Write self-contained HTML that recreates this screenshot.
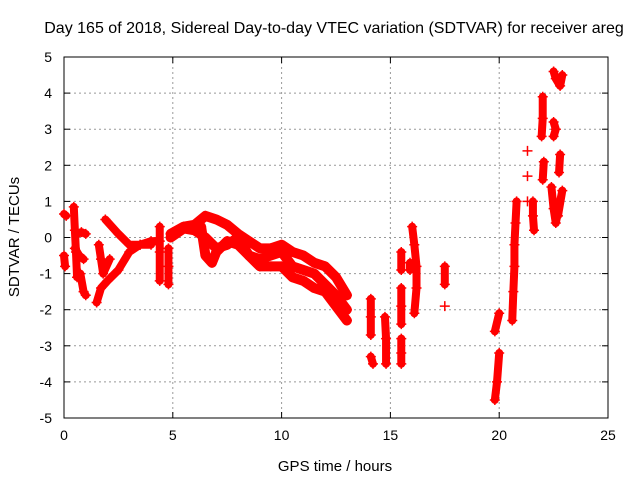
<!DOCTYPE html>
<html><head><meta charset="utf-8"><style>
body{margin:0;background:#fff;}
svg{display:block;font-family:"Liberation Sans",sans-serif;}
</style></head><body>
<svg id="chart" width="640" height="480">
<text x="334" y="33" text-anchor="middle" font-size="16">Day 165 of 2018, Sidereal Day-to-day VTEC variation (SDTVAR) for receiver areg</text>
<g id="grid"></g>
<g id="axes"></g>
<g id="marks"></g>
<text x="335" y="471" text-anchor="middle" font-size="15">GPS time / hours</text>
<text transform="translate(19,237) rotate(-90)" text-anchor="middle" font-size="15">SDTVAR / TECUs</text>
</svg>
<script>
const xTicks=[0,5,10,15,20,25];
const yTicks=[-5,-4,-3,-2,-1,0,1,2,3,4,5];
const tracks=[
[[0,0.65],[0.1,0.6]],
[[0,-0.5],[0.05,-0.8]],
[[0.45,0.85],[0.5,0.2],[0.55,-0.4],[0.6,-1.1],[0.75,-1.0],[0.9,-1.5],[1.0,-1.6]],
[[0.6,0.1],[0.8,0.15],[1.0,0.1]],
[[0.5,-0.3],[0.7,-0.5],[0.9,-0.6]],
[[1.5,-1.8],[1.7,-1.4],[2.0,-1.2],[2.5,-0.9],[3,-0.4],[3.5,-0.2],[4,-0.1],[4.4,-0.1]],
[[1.9,0.5],[2.5,0.1],[3,-0.2],[3.5,-0.2],[4,-0.2]],
[[1.6,-0.2],[1.7,-0.6],[1.8,-1.0],[2.1,-0.6]],
[[4.4,0.3],[4.4,-0.4],[4.4,-1.2]],
[[4.8,-0.3],[4.8,-0.8],[4.8,-1.3]],
[[4.9,0],[5.5,0.25],[6,0.2],[6.5,0],[7,-0.3],[7.5,-0.2],[8,0],[8.5,-0.5],[9,-0.8],[9.5,-0.8],[10,-0.8],[10.5,-1.1],[11,-1.2],[11.5,-1.4],[12,-1.5],[12.5,-1.9],[13,-2.3]],
[[4.9,0.1],[5.5,0.3],[6,0.35],[6.5,0.6],[7,0.5],[7.5,0.35],[8,0.1],[8.5,-0.1],[9,-0.3],[9.5,-0.3],[10,-0.2],[10.5,-0.4],[11,-0.5],[11.5,-0.7],[12,-0.8],[12.5,-1.1],[13,-1.6]],
[[6.3,0.3],[6.5,-0.5],[6.8,-0.7],[7,-0.4],[7.5,-0.1],[8,-0.2],[8.5,-0.5],[9,-0.6],[9.5,-0.5],[10,-0.4],[10.5,-0.8],[11,-0.9],[11.5,-1.0],[12,-1.3],[12.5,-1.6],[13,-2.0]],
[[14.1,-1.7],[14.1,-2.2],[14.1,-2.7]],
[[14.1,-3.3],[14.2,-3.5]],
[[14.75,-2.2],[14.8,-2.8],[14.8,-3.5]],
[[15.5,-0.4],[15.5,-0.9]],
[[15.5,-1.4],[15.5,-1.9],[15.5,-2.4]],
[[15.5,-2.8],[15.5,-3.2],[15.5,-3.5]],
[[16.0,0.3],[16.1,-0.2],[16.2,-0.8],[16.2,-1.4],[16.1,-2.1]],
[[15.9,-0.7],[15.9,-0.9]],
[[17.5,-0.8],[17.5,-1.3]],
[[17.5,-1.9]],
[[19.8,-4.5],[19.9,-4.0],[20.0,-3.2]],
[[19.8,-2.6],[20.0,-2.1]],
[[20.6,-2.3],[20.65,-1.5],[20.7,-0.8],[20.7,-0.2],[20.75,0.4],[20.8,1.0]],
[[21.3,2.4]],[[21.3,1.7]],[[21.3,1.0]],
[[21.55,1.0],[21.55,0.6],[21.6,0.2]],
[[22.0,3.9],[22.0,3.3],[21.95,2.8]],
[[22.05,2.1],[22.0,1.6]],
[[22.5,4.6],[22.6,4.4],[22.8,4.2],[22.9,4.5]],
[[22.5,3.2],[22.6,3.0],[22.5,2.8]],
[[22.8,2.3],[22.75,1.8]],
[[22.4,1.4],[22.5,0.8],[22.6,0.4],[22.9,1.3],[22.7,0.6]]
];
const X=h=>64+h*21.76, Y=v=>237.5-v*36.1;
const ns="http://www.w3.org/2000/svg";
const grid=document.getElementById('grid'),axes=document.getElementById('axes'),marks=document.getElementById('marks');
function mk(tag,attrs,parent){const e=document.createElementNS(ns,tag);for(const k in attrs)e.setAttribute(k,attrs[k]);parent.appendChild(e);return e;}
xTicks.forEach(t=>{
 if(t>0&&t<25){const g=mk('line',{x1:X(t),x2:X(t),y1:57,y2:418,stroke:'#999','stroke-dasharray':'2,3'},grid);
 
 }
 mk('line',{x1:X(t),x2:X(t),y1:418,y2:412,stroke:'#000'},axes);
 mk('line',{x1:X(t),x2:X(t),y1:57,y2:63,stroke:'#000'},axes);
 const l=mk('text',{x:X(t),y:440,'text-anchor':'middle','font-size':14},axes);l.textContent=t;
 
 
});
yTicks.forEach(t=>{
 if(t>-5&&t<5){const g=mk('line',{x1:64,x2:608,y1:Y(t),y2:Y(t),stroke:'#999','stroke-dasharray':'2,3'},grid);
 
 }
 mk('line',{x1:64,x2:70,y1:Y(t),y2:Y(t),stroke:'#000'},axes);
 mk('line',{x1:602,x2:608,y1:Y(t),y2:Y(t),stroke:'#000'},axes);
 const l=mk('text',{x:52,y:Y(t)+5,'text-anchor':'end','font-size':14},axes);l.textContent=t;
 
 
});
mk('rect',{x:64,y:57,width:544,height:361,fill:'none',stroke:'#000'},axes);
tracks.forEach(tr=>{
 const pl=mk('polyline',{points:tr.map(p=>X(p[0])+','+Y(p[1])).join(' '),fill:'none',stroke:'#f00','stroke-width':tr.length>8?10:8,'stroke-linejoin':'round','stroke-linecap':'round'},marks);
 
 
 tr.forEach(p=>{
  const x=X(p[0]),y=Y(p[1]);
  const m=mk('path',{d:`M${x-5},${y}H${x+5}M${x},${y-5}V${y+5}`,stroke:'#f00','stroke-width':1.5},marks);
  
  
 });
});
</script>
</body></html>
